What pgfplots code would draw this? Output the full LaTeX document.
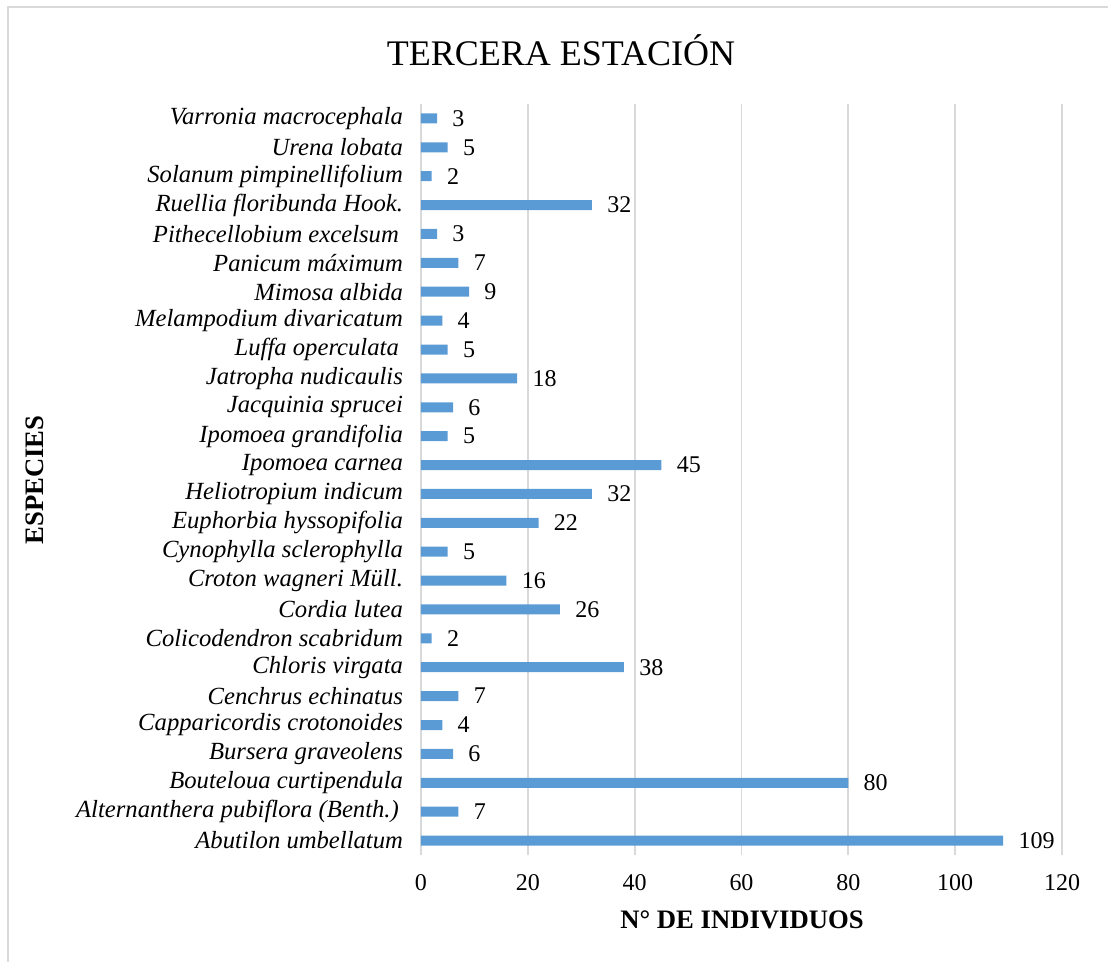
\documentclass[border=0pt]{standalone}
\usepackage{fontspec}
\setmainfont{Liberation Serif}
\usepackage{pgfplots}
\pgfplotsset{compat=1.18}
\definecolor{barblue}{HTML}{5B9BD5}
\definecolor{gridgray}{HTML}{D9D9D9}
\begin{document}
\begin{tikzpicture}
\useasboundingbox (0,0) rectangle (831pt,721.5pt);
\draw[gridgray, line width=1.5pt] (6pt,0) -- (6pt,716.25pt) -- (831pt,716.25pt);
\begin{axis}[
  at={(315.75pt,80.25pt)}, anchor=south west,
  width=480.75pt, height=563.25pt, scale only axis,
  xbar, bar width=7.5pt,
  xmin=0, xmax=120, ymin=-0.5, ymax=25.5,
  xtick={0,20,40,60,80,100,120},
  ytick={0,...,25},
  yticklabels={Abutilon umbellatum, Alternanthera pubiflora (Benth.)\,, Bouteloua curtipendula, Bursera graveolens, Capparicordis crotonoides, Cenchrus echinatus, Chloris virgata, Colicodendron scabridum, Cordia lutea, Croton wagneri Müll., Cynophylla sclerophylla, Euphorbia hyssopifolia, Heliotropium indicum, Ipomoea carnea, Ipomoea grandifolia, Jacquinia sprucei, Jatropha nudicaulis, Luffa operculata\,, Melampodium divaricatum, Mimosa albida, Panicum máximum, Pithecellobium excelsum\,, Ruellia floribunda Hook., Solanum pimpinellifolium, Urena lobata, Varronia macrocephala},
  yticklabel style={font=\fontsize{18.5pt}{20pt}\selectfont\itshape, xshift=-10pt},
  xticklabel style={font=\fontsize{18pt}{20pt}\selectfont, yshift=-11pt},
  /pgf/number format/assume math mode=true,
  xmajorgrids, grid style={gridgray, line width=1.4pt},
  axis line style={draw=none},
  major tick length=0pt,
  nodes near coords,
  nodes near coords style={font=\fontsize{18pt}{20pt}\selectfont, anchor=west, xshift=8pt, text=black},
  clip=false,
]
\addplot[fill=barblue, draw=none] coordinates {
(109,0) (7,1) (80,2) (6,3) (4,4) (7,5) (38,6) (2,7) (26,8) (16,9)
(5,10) (22,11) (32,12) (45,13) (5,14) (6,15) (18,16) (5,17) (4,18) (9,19)
(7,20) (3,21) (32,22) (2,23) (5,24) (3,25)
};
\end{axis}
\node[font=\fontsize{27pt}{30pt}\selectfont] at (420.75pt,684pt) {TERCERA ESTACIÓN};
\node[font=\fontsize{20pt}{22pt}\selectfont\bfseries] at (556.5pt,31.5pt) {N° DE INDIVIDUOS};
\node[font=\fontsize{20pt}{22pt}\selectfont\bfseries, rotate=90] at (26.25pt,361.5pt) {ESPECIES};
\end{tikzpicture}
\end{document}
